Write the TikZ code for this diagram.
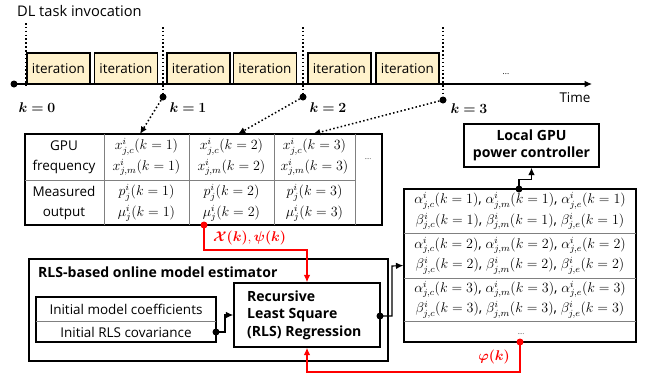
\documentclass[tikz,border=0pt]{standalone}
\usepackage{amsmath,amssymb,bm}
\usepackage{fontspec}
\setmainfont{Open Sans}
\usetikzlibrary{arrows.meta, calc}
\definecolor{iterfill}{HTML}{FFF2CC}
\definecolor{gridgray}{HTML}{808080}
\def\pu{0.3mm}

\tikzset{
	iterbox/.style={draw, line width=1.1pt, fill=iterfill, minimum width=63*\pu,
		minimum height=31*\pu, inner sep=0pt},
	frame/.style={draw, line width=1.3pt, inner sep=0pt},
	cell/.style={align=center, inner sep=0pt, font=\fontsize{11.5}{17.5}\selectfont},
	boldtext/.style={font=\fontsize{12}{15}\selectfont\bfseries},
	dotmark/.style={circle, fill, inner sep=0pt, minimum size=7*\pu},
	reddot/.style={dotmark, red},
	gridline/.style={gridgray, line width=0.6pt},
	flow/.style={line width=1pt},
	redflow/.style={red, line width=1.1pt},
	tick/.style={dotted, line width=1.3pt},
}

\begin{document}
\begin{tikzpicture}[x=\pu, y=-\pu, >={Latex[length=2.2mm,width=2mm]},
	line cap=butt, font=\fontsize{11.5}{14}\selectfont]
	\useasboundingbox (0,0) rectangle (650,380);
	
	% ===============================
	% ========= TIME LINE ===========
	% ===============================
	\node[anchor=west, font=\fontsize{12.5}{14}\selectfont] (title) at (13,11) {DL task invocation};
	
	% ---- iterations on the time axis ----
	\foreach \cx [count=\i] in {58.5,126,198.5,265,339.5,407.5}
	\node[iterbox] (it\i) at (\cx,68.5) {iteration};
	
	\node[dotmark] (t0) at (14,84) {};
	\coordinate (tend) at (592,84);
	\draw[flow,->] (t0.center) -- (tend);
	\node (time) at (575,98) {Time};
	\node[font=\scriptsize] (more) at (506,74) {...};
	
	% ---- invocation instants k ----
	\draw[tick] (26,23) -- (26,88);
	\foreach \kx/\ky [count=\i] in {163/97,303/97,443/100}{
		\node[dotmark] (k\i) at (\kx,\ky) {};
		\draw[tick] (\kx,27) -- (k\i.center);
	}
	\node (lk0) at (37,108) {$\boldsymbol{k=0}$};
	\node (lk1) at (188,108) {$\boldsymbol{k=1}$};
	\node (lk2) at (328,108) {$\boldsymbol{k=2}$};
	\node (lk3) at (469,109) {$\boldsymbol{k=3}$};
	
	% ===============================
	% ====== MEASUREMENT TABLE ======
	% ===============================
	\node[frame, minimum width=357*\pu, minimum height=91*\pu] (meas) at (203.5,179.5) {};
	\foreach \gx in {104,189,274}
	\draw[gridline] (\gx,134) -- (\gx,225);
	\draw[gridline] (355,134) -- (355,225);
	\draw[gridline] (25,180) -- (355,180);
	
	\node[cell] (gpu) at (64,157) {GPU\\frequency};
	\node[cell] (out) at (64,203) {Measured\\output};
	\foreach \cx [count=\k] in {146.5,231.5,314.5}{
		\node[cell] (f\k) at (\cx,157) {$x^{i}_{j,c}(k=\k)$\\$x^{i}_{j,m}(k=\k)$};
		\node[cell] (o\k) at (\cx,203) {$p^{i}_{j}(k=\k)$\\$\mu^{i}_{j}(k=\k)$};
	}
	\node[font=\tiny] (fdots) at (368,159) {....};
	
	% samples go into the table
	\coordinate (in1) at (140,134);
	\coordinate (in2) at (238,134);
	\coordinate (in3) at (313,134);
	\foreach \i in {1,2,3}
	\draw[tick,->] (k\i) -- (in\i);
	
	% ===============================
	% ======= RLS ESTIMATOR =========
	% ===============================
	\node[frame, minimum width=359*\pu, minimum height=102*\pu] (est) at (208.5,310) {};
	\node[boldtext, anchor=west] (esttitle) at (34,272) {RLS-based online model estimator};
	
	% ---- initial values ----
	\node[frame, minimum width=180*\pu, minimum height=45*\pu] (init) at (126,319.5) {};
	\draw[gridline] (36,321) -- (216,321);
	\node (initcoef) at (126,309) {Initial model coefficients};
	\node (initcov) at (126,332) {Initial RLS covariance};
	
	% ---- recursive regression ----
	\node[frame, minimum width=146*\pu, minimum height=64*\pu] (rls) at (307,315) {};
	\node[boldtext, anchor=west, align=left] (rlstext) at (243,315)
	{Recursive\\Least Square\\(RLS) Regression};
	
	\node[dotmark] (idot) at (216,332) {};
	\draw[flow,->] (idot.center) -| (225,315) -- (rls.west);
	
	% ===============================
	% ===== MODEL COEFFICIENTS ======
	% ===============================
	\node[frame, minimum width=232*\pu, minimum height=153*\pu] (coef) at (520,265.5) {};
	\foreach \gy in {233,278,321}
	\draw[gridline] (404,\gy) -- (636,\gy);
	\foreach \cy [count=\k] in {211,255.5,299.5}
	\node[cell, font=\fontsize{12}{17.5}\selectfont] (c\k) at (520,\cy)
	{$\alpha^{i}_{j,c}(k=\k)$, $\alpha^{i}_{j,m}(k=\k)$, $\alpha^{i}_{j,e}(k=\k)$\\
		$\beta^{i}_{j,c}(k=\k)$, $\beta^{i}_{j,m}(k=\k)$, $\beta^{i}_{j,e}(k=\k)$};
	\node[font=\tiny] (cdots) at (521,334) {....};
	
	\node[dotmark] (rdot) at (380,316) {};
	\draw[flow,->] (rdot.center) -| (392,266) -- (coef.west);
	
	% ---- local power controller ----
	\node[frame, boldtext, align=center, minimum width=135*\pu, minimum height=43*\pu]
	(ctrl) at (531.5,145.5) {Local GPU\\power controller};
	\node[dotmark] (cdot) at (519,189) {};
	\draw[flow,->] (cdot.center) |- ($(ctrl.south)+(0,12)$) -- (ctrl.south);
	
	% ===============================
	% ======= FEEDBACK (red) ========
	% ===============================
	\node[reddot] (xdot) at (204,225) {};
	\coordinate (xbend) at (307,250);
	\draw[redflow,->] (xdot.center) |- (xbend) -- (rls.north);
	\node[red, anchor=west] (xlab) at (209,238)
	{$\boldsymbol{\mathcal{X}(k)},\boldsymbol{\psi(k)}$};
	
	\node[reddot] (pdot) at (520,342) {};
	\coordinate (pbend) at (307,372);
	\draw[redflow,->] (pdot.center) |- (pbend) -- (rls.south);
	\node[red, anchor=east] (plab) at (514,357) {$\boldsymbol{\varphi(k)}$};
	
\end{tikzpicture}
\end{document}
